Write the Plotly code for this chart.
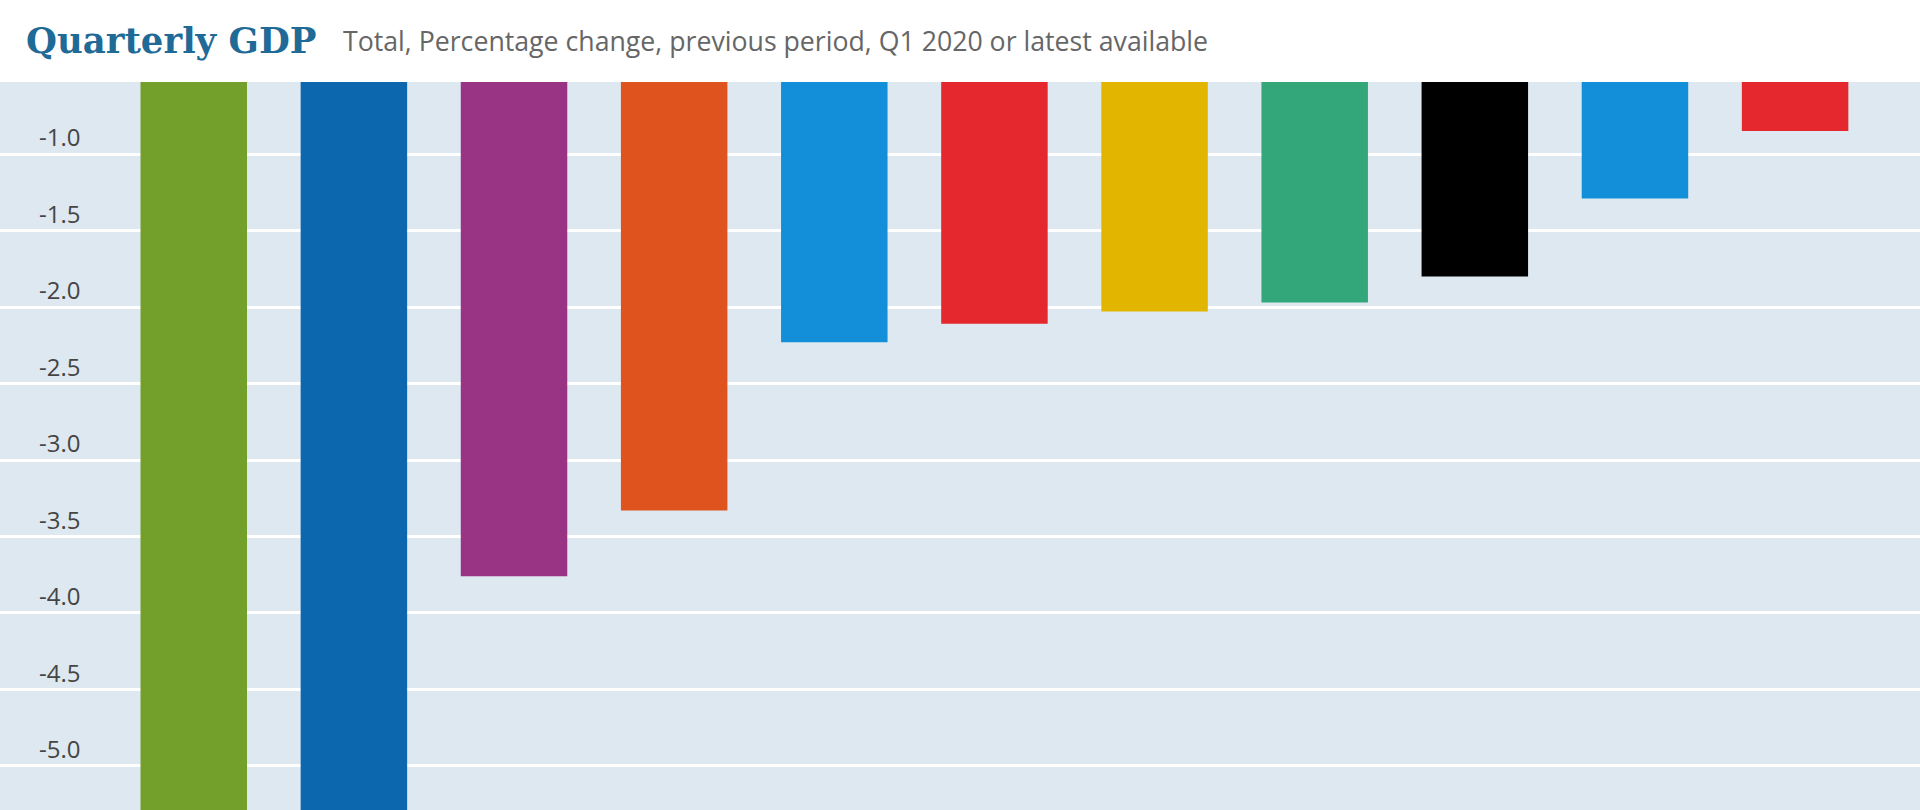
import plotly.graph_objects as go

# Data (first two bars extend below the visible range)
countries = ["France", "Italy", "Euro area", "European Union", "Germany",
             "United Kingdom", "Canada", "G7", "OECD - Total", "United States", "Japan"]
gdp_change = [-5.9, -5.5, -3.76, -3.33, -2.23, -2.11, -2.03, -1.97, -1.80, -1.29, -0.85]
bar_colors = ["#72a02a", "#0d67ae", "#993485", "#df531f", "#138fd9", "#e4282e",
              "#e2b600", "#33a67a", "#000000", "#138fd9", "#e4282e"]

tick_values = [-5.0, -4.5, -4.0, -3.5, -3.0, -2.5, -2.0, -1.5, -1.0]
tick_labels = ["-5.0", "-4.5", "-4.0", "-3.5", "-3.0", "-2.5", "-2.0", "-1.5", "-1.0"]

title_text = "Quarterly GDP"
subtitle_text = "Total, Percentage change, previous period, Q1 2020 or latest available"

fig = go.Figure(go.Bar(
    x=countries,
    y=gdp_change,
    marker=dict(color=bar_colors, line=dict(width=0)),
    hoverinfo="x+y",
))

fig.update_layout(
    width=1920, height=810,
    margin=dict(l=0, r=0, t=82, b=0),
    paper_bgcolor="#ffffff",
    plot_bgcolor="#dde8f0",
    bargap=0.335,
    showlegend=False,
    xaxis=dict(
        range=[-1.21, 10.78],
        showticklabels=False,
        showgrid=False,
        zeroline=False,
        fixedrange=True,
    ),
    yaxis=dict(
        range=[-5.288, -0.529],
        tickmode="array",
        tickvals=tick_values,
        ticktext=tick_labels,
        showgrid=True,
        gridcolor="#ffffff",
        gridwidth=3,
        zeroline=False,
        ticks="",
        ticklabelposition="inside",
        ticklabelstandoff=36,
        ticklabelshift=-16,
        tickfont=dict(family="Open Sans", size=24, color="#454545"),
        fixedrange=True,
    ),
    annotations=[
        dict(text=title_text, xref="paper", yref="paper", x=0, y=1,
             xanchor="left", yanchor="middle", xshift=24, yshift=42,
             showarrow=False,
             font=dict(family="DejaVu Serif", size=35.5, color="#1f6a96",
                       weight="bold")),
        dict(text=subtitle_text, xref="paper", yref="paper", x=0, y=1,
             xanchor="left", yanchor="middle", xshift=341, yshift=42,
             showarrow=False,
             font=dict(family="Open Sans", size=26.7, color="#666666")),
    ],
)

fig.write_html("out.html", config={"displayModeBar": False},
               post_script="document.body.style.margin='0';")
